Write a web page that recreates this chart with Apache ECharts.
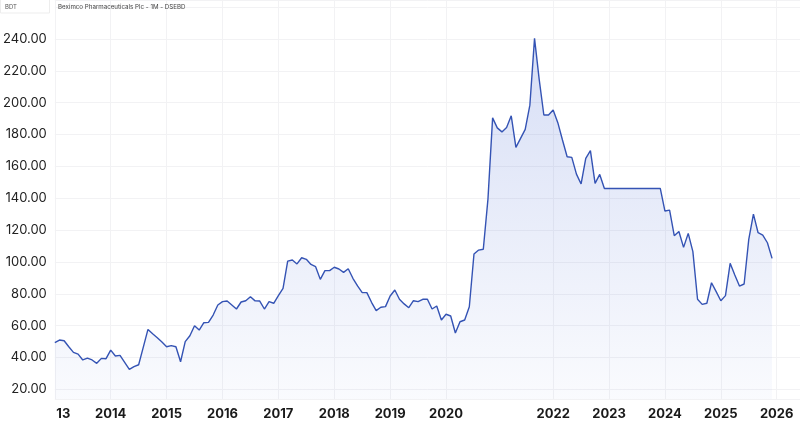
<!DOCTYPE html>
<html>
<head>
<meta charset="utf-8">
<script src="https://cdn.jsdelivr.net/npm/echarts@6/dist/echarts.min.js"></script>
<style>
html,body{margin:0;padding:0;background:#fff;}
#chart{width:800px;height:432px;}
</style>
</head>
<body>
<div id="chart"></div>
<script>
// Monthly closing prices (BDT)
const years = [2013, 2014, 2015, 2016, 2017, 2018, 2019, 2020, 2021, 2022, 2023, 2024, 2025];
const monthNames = ['01','02','03','04','05','06','07','08','09','10','11','12'];
const values2013 = [49.4, 51.0, 50.6, 46.8, 43.3, 42.2, 38.5, 39.7, 38.5, 36.4, 39.5, 39.3];
const values2014 = [44.7, 41.0, 41.4, 37.0, 32.6, 34.3, 35.5, 46.6, 57.7, 55.0, 52.5, 49.8];
const values2015 = [46.8, 47.5, 46.8, 37.4, 50.0, 53.7, 60.0, 57.3, 61.9, 62.1, 66.7, 73.0];
const values2016 = [75.1, 75.5, 73.0, 70.5, 74.9, 75.7, 78.2, 75.6, 75.5, 70.5, 75.1, 74.1];
const values2017 = [78.9, 83.5, 100.6, 101.3, 98.8, 102.7, 101.7, 98.5, 97.1, 89.1, 94.6, 94.6];
const values2018 = [96.7, 95.6, 93.5, 95.8, 89.8, 85.0, 80.8, 80.8, 74.7, 69.5, 71.6, 72.0];
const values2019 = [78.7, 82.4, 76.6, 73.7, 71.3, 75.7, 75.1, 76.6, 76.6, 70.5, 72.4, 63.6];
const values2020 = [67.2, 66.1, 55.4, 62.5, 63.6, 71.9, 105.0, 107.5, 108.0, 139.5, 190.5, 184.2];
// 2021: no January bar in the source (Feb..Dec)
const values2021 = [null, 181.7, 184.5, 191.8, 172.0, 177.6, 183.3, 198.5, 240.4, 214.7, 192.3, 192.3];
const values2022 = [195.4, 187.5, 176.6, 166.1, 165.7, 155.2, 149.0, 165.1, 169.9, 149.4, 155.0, 146.2];
const values2023 = [146.2, 146.2, 146.2, 146.2, 146.2, 146.2, 146.2, 146.2, 146.2, 146.2, 146.2, 146.2];
const values2024 = [132.0, 132.6, 116.5, 119.2, 109.2, 118.0, 106.5, 76.6, 73.4, 74.1, 87.0, 81.4];
const values2025 = [75.7, 78.9, 99.2, 91.8, 84.9, 86.2, 114.2, 130.1, 118.4, 116.9, 112.1, 102.3];
const futureMonths = ['2026-01','2026-02','2026-03','2026-04','2026-05','2026-06'];
const yTickLabels = [20, 40, 60, 80, 100, 120, 140, 160, 180, 200, 220, 240];

const yearValues = [values2013, values2014, values2015, values2016, values2017, values2018,
  values2019, values2020, values2021, values2022, values2023, values2024, values2025];

const categories = [];
const seriesData = [];
years.forEach((y, yi) => {
  monthNames.forEach((m, mi) => {
    const v = yearValues[yi][mi];
    if (v === null) return; // month absent in the source
    categories.push(y + '-' + m);
    seriesData.push(v);
  });
});
futureMonths.forEach(c => { categories.push(c); seriesData.push(null); });

const isJan = (idx, val) => String(val).endsWith('-01');

const chart = echarts.init(document.getElementById('chart'), null, {renderer: 'canvas'});
chart.setOption({
  animation: false,
  backgroundColor: '#ffffff',
  grid: {left: 53, right: 0, top: 0, bottom: 33},
  xAxis: {
    type: 'category',
    data: categories,
    boundaryGap: false,
    axisLine: {show: false},
    axisTick: {show: false},
    splitLine: {show: true, interval: isJan, lineStyle: {color: '#f2f2f4', width: 1}},
    axisLabel: {
      interval: isJan,
      margin: 9,
      fontFamily: 'Inter',
      fontSize: 13,
      fontWeight: 'bold',
      color: '#1a1a1a',
      formatter: function (val, idx) {
        const y = val.slice(0, 4);
        if (idx === 0) return '{first|' + y.slice(2) + '}';
        return y;
      },
      rich: {
        first: {padding: [0, 0, 0, 17], fontFamily: 'Inter', fontSize: 13, fontWeight: 'bold', color: '#1a1a1a'}
      }
    }
  },
  yAxis: {
    type: 'value',
    min: 14.0,
    max: 264.5,
    minInterval: 20,
    maxInterval: 20,
    splitNumber: 12,
    axisLine: {show: false},
    axisTick: {show: false},
    splitLine: {show: true, lineStyle: {color: '#f2f2f4', width: 1}},
    axisLabel: {
      margin: 8,
      fontFamily: 'Inter',
      fontSize: 13,
      color: '#222222',
      formatter: function (v) {
        return yTickLabels.indexOf(Math.round(v)) >= 0 && Math.abs(v - Math.round(v)) < 1e-6 ? v.toFixed(2) : '';
      }
    }
  },
  series: [{
    type: 'line',
    data: seriesData,
    showSymbol: false,
    symbol: 'none',
    connectNulls: false,
    lineStyle: {color: '#3453b4', width: 1.4},
    areaStyle: {
      color: new echarts.graphic.LinearGradient(0, 0, 0, 1, [
        {offset: 0, color: 'rgba(66,101,210,0.30)'},
        {offset: 1, color: 'rgba(66,101,210,0.04)'}
      ])
    }
  }],
  graphic: [
    {type: 'rect', shape: {x: 0.5, y: -1, width: 49, height: 14}, style: {fill: '#fff', stroke: '#ededed', lineWidth: 1}, z: 10},
    {type: 'text', x: 5, y: 7, style: {text: 'BDT', font: '6px Inter', fill: '#555', verticalAlign: 'middle'}, z: 11},
    {type: 'text', x: 58, y: 7, style: {text: 'Beximco Pharmaceuticals Plc - 1M - DSEBD', font: '6.2px Inter', fill: '#444', verticalAlign: 'middle'}, z: 11}
  ]
});
</script>
</body>
</html>
